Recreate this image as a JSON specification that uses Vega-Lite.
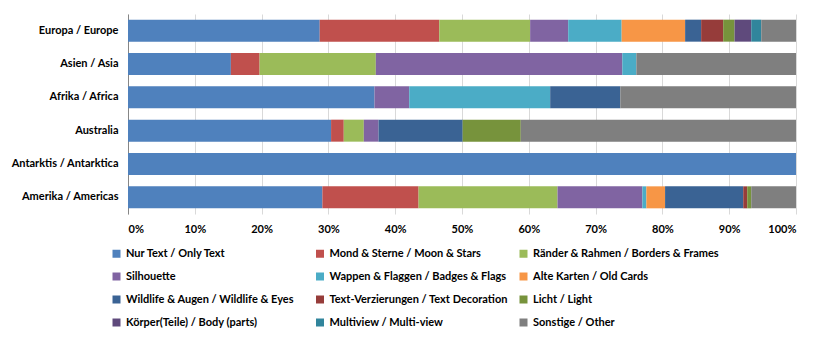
{
  "$schema": "https://vega.github.io/schema/vega-lite/v6.json",
  "width": 668,
  "height": 200,
  "autosize": "none",
  "padding": {"left": 128, "top": 14, "right": 29, "bottom": 126},
  "background": "white",
  "data": {
    "values": [
      {"region": "Europa / Europe", "cat": "Nur Text / Only Text", "i": 1, "v": 28.7},
      {"region": "Europa / Europe", "cat": "Mond & Sterne / Moon & Stars", "i": 2, "v": 17.9},
      {"region": "Europa / Europe", "cat": "Ränder & Rahmen / Borders & Frames", "i": 3, "v": 13.6},
      {"region": "Europa / Europe", "cat": "Silhouette", "i": 4, "v": 5.7},
      {"region": "Europa / Europe", "cat": "Wappen & Flaggen / Badges & Flags", "i": 5, "v": 8.0},
      {"region": "Europa / Europe", "cat": "Alte Karten / Old Cards", "i": 6, "v": 9.5},
      {"region": "Europa / Europe", "cat": "Wildlife & Augen / Wildlife & Eyes", "i": 7, "v": 2.4},
      {"region": "Europa / Europe", "cat": "Text-Verzierungen / Text Decoration", "i": 8, "v": 3.3},
      {"region": "Europa / Europe", "cat": "Licht / Light", "i": 9, "v": 1.7},
      {"region": "Europa / Europe", "cat": "Körper(Teile) / Body (parts)", "i": 10, "v": 2.5},
      {"region": "Europa / Europe", "cat": "Multiview / Multi-view", "i": 11, "v": 1.5},
      {"region": "Europa / Europe", "cat": "Sonstige / Other", "i": 12, "v": 5.2},
      {"region": "Asien / Asia", "cat": "Nur Text / Only Text", "i": 1, "v": 15.4},
      {"region": "Asien / Asia", "cat": "Mond & Sterne / Moon & Stars", "i": 2, "v": 4.3},
      {"region": "Asien / Asia", "cat": "Ränder & Rahmen / Borders & Frames", "i": 3, "v": 17.4},
      {"region": "Asien / Asia", "cat": "Silhouette", "i": 4, "v": 36.9},
      {"region": "Asien / Asia", "cat": "Wappen & Flaggen / Badges & Flags", "i": 5, "v": 2.1},
      {"region": "Asien / Asia", "cat": "Sonstige / Other", "i": 12, "v": 23.9},
      {"region": "Afrika / Africa", "cat": "Nur Text / Only Text", "i": 1, "v": 36.9},
      {"region": "Afrika / Africa", "cat": "Silhouette", "i": 4, "v": 5.2},
      {"region": "Afrika / Africa", "cat": "Wappen & Flaggen / Badges & Flags", "i": 5, "v": 21.1},
      {"region": "Afrika / Africa", "cat": "Wildlife & Augen / Wildlife & Eyes", "i": 7, "v": 10.5},
      {"region": "Afrika / Africa", "cat": "Sonstige / Other", "i": 12, "v": 26.3},
      {"region": "Australia", "cat": "Nur Text / Only Text", "i": 1, "v": 30.4},
      {"region": "Australia", "cat": "Mond & Sterne / Moon & Stars", "i": 2, "v": 1.9},
      {"region": "Australia", "cat": "Ränder & Rahmen / Borders & Frames", "i": 3, "v": 3.0},
      {"region": "Australia", "cat": "Silhouette", "i": 4, "v": 2.2},
      {"region": "Australia", "cat": "Wildlife & Augen / Wildlife & Eyes", "i": 7, "v": 12.6},
      {"region": "Australia", "cat": "Licht / Light", "i": 9, "v": 8.7},
      {"region": "Australia", "cat": "Sonstige / Other", "i": 12, "v": 41.2},
      {"region": "Antarktis / Antarktica", "cat": "Nur Text / Only Text", "i": 1, "v": 100},
      {"region": "Amerika / Americas", "cat": "Nur Text / Only Text", "i": 1, "v": 29.1},
      {"region": "Amerika / Americas", "cat": "Mond & Sterne / Moon & Stars", "i": 2, "v": 14.4},
      {"region": "Amerika / Americas", "cat": "Ränder & Rahmen / Borders & Frames", "i": 3, "v": 20.8},
      {"region": "Amerika / Americas", "cat": "Silhouette", "i": 4, "v": 12.7},
      {"region": "Amerika / Americas", "cat": "Wappen & Flaggen / Badges & Flags", "i": 5, "v": 0.6},
      {"region": "Amerika / Americas", "cat": "Alte Karten / Old Cards", "i": 6, "v": 2.8},
      {"region": "Amerika / Americas", "cat": "Wildlife & Augen / Wildlife & Eyes", "i": 7, "v": 11.7},
      {"region": "Amerika / Americas", "cat": "Text-Verzierungen / Text Decoration", "i": 8, "v": 0.6},
      {"region": "Amerika / Americas", "cat": "Licht / Light", "i": 9, "v": 0.6},
      {"region": "Amerika / Americas", "cat": "Sonstige / Other", "i": 12, "v": 6.7}
    ]
  },
  "mark": {"type": "bar"},
  "encoding": {
    "y": {
      "field": "region",
      "type": "nominal",
      "sort": ["Europa / Europe", "Asien / Asia", "Afrika / Africa", "Australia", "Antarktis / Antarktica", "Amerika / Americas"],
      "scale": {"paddingInner": 0.34, "paddingOuter": 0.17},
      "axis": {
        "title": null,
        "domain": true,
        "domainColor": "#868686",
        "ticks": false,
        "labelPadding": 10,
        "labelFont": "Lato",
        "labelFontWeight": "bold",
        "labelFontSize": 11,
        "labelColor": "#000000",
        "grid": false
      }
    },
    "x": {
      "field": "v",
      "type": "quantitative",
      "stack": "normalize",
      "scale": {"domain": [0, 1]},
      "axis": {
        "title": null,
        "format": "%",
        "values": [0, 0.1, 0.2, 0.3, 0.4, 0.5, 0.6, 0.7, 0.8, 0.9, 1],
        "domain": false,
        "ticks": false,
        "grid": true,
        "gridColor": "#D9D9D9",
        "gridWidth": 1,
        "labelPadding": 9,
        "labelFont": "Lato",
        "labelFontWeight": "bold",
        "labelFontSize": 11,
        "labelColor": "#000000"
      }
    },
    "color": {
      "field": "cat",
      "type": "nominal",
      "scale": {
        "domain": [
          "Nur Text / Only Text",
          "Mond & Sterne / Moon & Stars",
          "Ränder & Rahmen / Borders & Frames",
          "Silhouette",
          "Wappen & Flaggen / Badges & Flags",
          "Alte Karten / Old Cards",
          "Wildlife & Augen / Wildlife & Eyes",
          "Text-Verzierungen / Text Decoration",
          "Licht / Light",
          "Körper(Teile) / Body (parts)",
          "Multiview / Multi-view",
          "Sonstige / Other"
        ],
        "range": ["#4F81BD", "#C0504D", "#9BBB59", "#8064A2", "#4BACC6", "#F79646", "#3A6394", "#963C3A", "#77933C", "#5F4A7C", "#31859C", "#7F7F7F"]
      },
      "legend": {
        "title": null,
        "orient": "none",
        "direction": "horizontal",
        "legendX": -17,
        "legendY": 234,
        "columns": 3,
        "gridAlign": "all",
        "columnPadding": 2.5,
        "rowPadding": 11,
        "symbolType": "square",
        "symbolSize": 64,
        "symbolStrokeWidth": 0,
        "symbolOffset": 0,
        "labelOffset": 4,
        "labelFont": "Lato",
        "labelFontWeight": "bold",
        "labelFontSize": 11,
        "labelColor": "#000000",
        "labelLimit": 300
      }
    },
    "order": {"field": "i", "type": "quantitative", "sort": "ascending"}
  },
  "config": {
    "view": {"stroke": null},
    "axis": {"labelFont": "Lato"}
  }
}
